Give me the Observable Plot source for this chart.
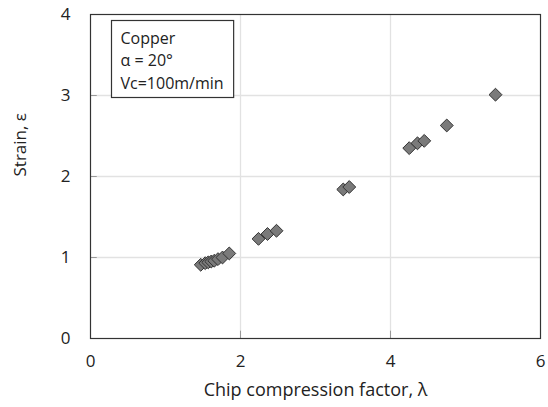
<!DOCTYPE html>
<html>
<head>
<meta charset="utf-8">
<script src="https://cdn.jsdelivr.net/npm/d3@7"></script>
<script src="https://cdn.jsdelivr.net/npm/@observablehq/plot@0.6"></script>
<style>
  html, body { margin: 0; padding: 0; background: #fff; }
  svg { display: block; }
</style>
</head>
<body>
<div id="chart"></div>
<script>
// Chip compression factor (λ)
const lambda = [1.47, 1.53, 1.57, 1.61, 1.65, 1.70, 1.76, 1.85, 2.24, 2.36, 2.48, 3.37, 3.45, 4.25, 4.36, 4.45, 4.75, 5.40];
// Strain (ε)
const strain = [0.91, 0.93, 0.94, 0.95, 0.96, 0.98, 1.00, 1.05, 1.23, 1.29, 1.33, 1.84, 1.87, 2.35, 2.41, 2.44, 2.63, 3.01];
const xTicks = [0, 2, 4, 6];
const yTicks = [0, 1, 2, 3, 4];
const annotation = ["Copper", "α = 20°", "Vc=100m/min"];

const data = lambda.map((x, i) => ({x, y: strain[i]}));
const font = "'Open Sans', sans-serif";
const inner = v => v.slice(1, -1);

const chart = Plot.plot({
  width: 548,
  height: 407,
  marginLeft: 90,
  marginRight: 8,
  marginTop: 14,
  marginBottom: 69,
  style: {fontFamily: font, fontSize: "17px", color: "#222", background: "#fff"},
  x: {domain: [0, 6]},
  y: {domain: [0, 4]},
  marks: [
    Plot.ruleX(inner(xTicks), {stroke: "#e2e2e2", strokeWidth: 1.3}),
    Plot.ruleY(inner(yTicks), {stroke: "#e2e2e2", strokeWidth: 1.3}),
    Plot.ruleX(inner(xTicks), {y1: 0, y2: 0.09, stroke: "#999"}),
    Plot.ruleY(inner(yTicks), {x1: 0, x2: 0.09, stroke: "#999"}),
    Plot.axisX({ticks: xTicks, tickFormat: d3.format("d"), tickSize: 0, tickPadding: 16, fontSize: 17, label: null}),
    Plot.axisY({ticks: yTicks, tickFormat: d3.format("d"), tickSize: 0, tickPadding: 20, fontSize: 17, label: null}),
    Plot.text(["Chip compression factor, λ"], {frameAnchor: "bottom", dy: 57, fontSize: 18, fill: "#222"}),
    Plot.text(["Strain, ε"], {frameAnchor: "left", rotate: -90, dx: -70, fontSize: 17, fill: "#222"}),
    Plot.frame({stroke: "#333", strokeWidth: 1.2}),
    Plot.dot(data, {x: "x", y: "y", symbol: "diamond2", r: 5.8, fill: "#7a7a7a", stroke: "#333", strokeWidth: 1}),
    ...annotation.map((t, i) => Plot.text([t], {frameAnchor: "top-left", dx: 30, dy: 29 + i * 22.5, lineAnchor: "bottom", textAnchor: "start", fontSize: 16, fill: "#222", className: "anno"}))
  ]
});

document.getElementById("chart").appendChild(chart);

// Box around the annotation, sized from the rendered text
const svg = d3.select(chart);
const texts = svg.selectAll("g.anno text").nodes();
if (texts.length) {
  let x0 = Infinity, y0 = Infinity, x1 = -Infinity, y1 = -Infinity;
  texts.forEach(t => {
    const b = t.getBBox();
    const m = t.getCTM();
    const sx = b.x + (m ? m.e : 0), sy = b.y + (m ? m.f : 0);
    x0 = Math.min(x0, sx); y0 = Math.min(y0, sy);
    x1 = Math.max(x1, sx + b.width); y1 = Math.max(y1, sy + b.height);
  });
  svg.insert("rect", "g.anno")
    .attr("x", x0 - 9).attr("y", y0 - 6)
    .attr("width", x1 - x0 + 19).attr("height", y1 - y0 + 10)
    .attr("fill", "#fff").attr("stroke", "#333").attr("stroke-width", 1.2);
}
</script>
</body>
</html>
